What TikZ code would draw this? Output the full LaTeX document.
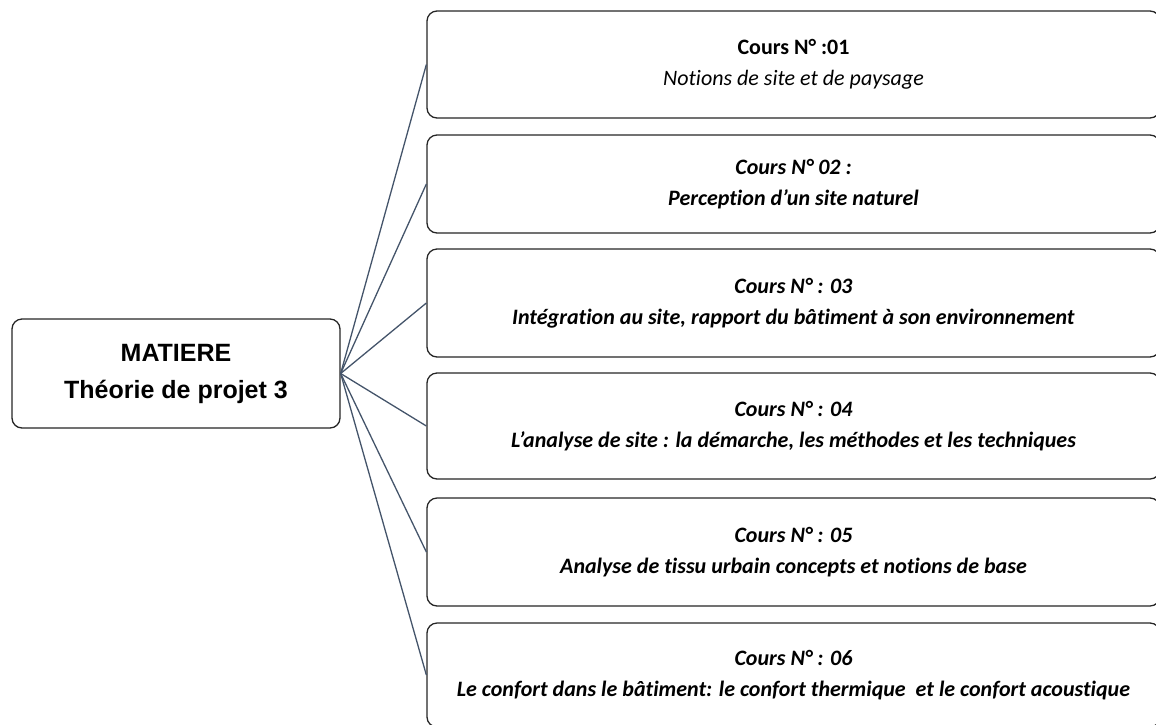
\documentclass[tikz,border=0pt]{standalone}
\usepackage{fontspec}
\setmainfont{Carlito}[Ligatures=NoCommon]
\newfontfamily\arialf{Liberation Sans}
\definecolor{linkc}{HTML}{44546A}
\definecolor{boxc}{HTML}{262626}
\tikzset{
  box/.style={draw=boxc, line width=1.3pt, rounded corners=10pt, fill=white, inner sep=0pt, align=center},
  mainbox/.style={box, minimum width=328pt, minimum height=109pt, font=\arialf\bfseries\fontsize{25}{37}\selectfont},
  coursebox/.style={box, minimum width=733pt, font=\fontsize{22}{31}\selectfont},
  link/.style={draw=linkc, line width=1.3pt}
}
\begin{document}
\begin{tikzpicture}[x=1pt, y=-1pt]
\useasboundingbox (0,0) rectangle (1156,724);
\node[mainbox] (m) at (176,373.5) {MATIERE\\Théorie de projet 3};
\node[coursebox, minimum height=107pt] (b1) at (793.5,64.5) {\textbf{Cours N° :01}\\\textit{Notions de site et de paysage}};
\node[coursebox, minimum height=98pt] (b2) at (793.5,184) {\textbf{\textit{Cours N° 02 :}}\\\textbf{\textit{Perception d’un site naturel}}};
\node[coursebox, minimum height=108pt] (b3) at (793.5,303) {\textbf{\textit{Cours N° : 03}}\\\textbf{\textit{Intégration au site, rapport du bâtiment à son environnement}}};
\node[coursebox, minimum height=106pt] (b4) at (793.5,426) {\textbf{\textit{Cours N° : 04}}\\\textbf{\textit{L’analyse de site : la démarche, les méthodes et les techniques}}};
\node[coursebox, minimum height=108pt] (b5) at (793.5,552) {\textbf{\textit{Cours N° : 05}}\\\textbf{\textit{Analyse de tissu urbain concepts et notions de base}}};
\node[coursebox, minimum height=104pt] (b6) at (793.5,675) {\textbf{\textit{Cours N° : 06}}\\\textbf{\textit{Le confort dans le bâtiment: le confort thermique\ \ et le confort acoustique}}};
\foreach \b in {b1,b2,b3,b4,b5,b6}{
  \draw[link] (m.east) -- (\b.west);
}
\end{tikzpicture}
\end{document}
